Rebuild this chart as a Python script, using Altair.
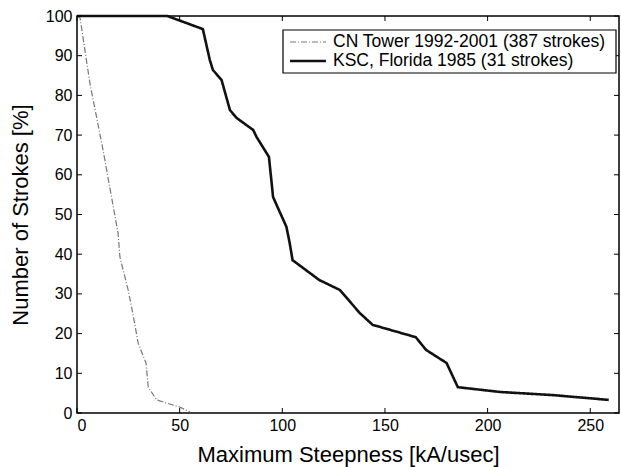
import altair as alt
import pandas as pd

# CN Tower 1992-2001 (387 strokes)
cn_x = [0, 1.5, 6.3, 12.7, 20.0, 20.9, 24.9, 26.6, 29.8, 33.6, 34.7, 38.8, 43.6, 50.0, 55.0]
cn_y = [100, 99.5, 83.0, 66.2, 45.3, 39.3, 31.0, 26.7, 17.6, 12.6, 6.5, 3.3, 2.5, 1.5, 0.3]

# KSC, Florida 1985 (31 strokes)
ksc_x = [0, 44, 61.3, 64.7, 66.2, 70.4, 74.5, 77.8, 85.8, 87.5, 92.3, 93.5, 95.5, 102, 103.6,
         105, 118, 128, 137.7, 144, 165, 170, 180, 185.5, 206, 232, 259]
ksc_y = [100, 100, 96.7, 88.9, 86.4, 83.9, 76.3, 74.3, 71.3, 69.5, 65.5, 64.5, 54.4, 46.9, 42.8,
         38.5, 33.5, 31.0, 25.2, 22.2, 19.1, 15.9, 12.6, 6.5, 5.3, 4.5, 3.3]

series = ["CN Tower 1992-2001 (387 strokes)", "KSC, Florida 1985 (31 strokes)"]
colors = ["#777777", "#111111"]
dashes = [[6, 2, 1, 2], [1, 0]]
widths = [1.2, 2.6]
x_ticks = [0, 50, 100, 150, 200, 250]
y_ticks = [0, 10, 20, 30, 40, 50, 60, 70, 80, 90, 100]

rows = []
for i, (x, y) in enumerate(zip(cn_x, cn_y)):
    rows.append({"s": series[0], "x": x, "y": y, "o": i})
for i, (x, y) in enumerate(zip(ksc_x, ksc_y)):
    rows.append({"s": series[1], "x": x, "y": y, "o": i})
df = pd.DataFrame(rows)

W, H = 542, 397
xs = alt.Scale(domain=[0, 264], nice=False)
ys = alt.Scale(domain=[0, 100], nice=False)

FONT = "Liberation Sans"
common = dict(ticks=False, grid=False, domain=False, titleFontWeight="normal",
              labelFontSize=16, titleFontSize=22, labelFont=FONT, titleFont=FONT,
              labelColor="black", titleColor="black")
xaxis = alt.Axis(values=x_ticks, title="Maximum Steepness [kA/usec]", labelPadding=4,
                 titlePadding=11, **common)
yaxis = alt.Axis(values=y_ticks, title="Number of Strokes [%]", labelPadding=5,
                 titlePadding=13, **common)

lines = alt.Chart(df).mark_line().encode(
    x=alt.X("x:Q", scale=xs, axis=xaxis),
    y=alt.Y("y:Q", scale=ys, axis=yaxis),
    order="o:Q",
    color=alt.Color("s:N", scale=alt.Scale(domain=series, range=colors), legend=None),
    strokeDash=alt.StrokeDash("s:N", scale=alt.Scale(domain=series, range=dashes), legend=None),
    strokeWidth=alt.StrokeWidth("s:N", scale=alt.Scale(domain=series, range=widths), legend=None),
)

xt = pd.DataFrame({"x": x_ticks})
yt = pd.DataFrame({"y": y_ticks})
xtick_b = alt.Chart(xt).mark_rule(color="black", strokeWidth=1).encode(
    x=alt.X("x:Q", scale=xs, axis=xaxis), y=alt.value(H), y2=alt.value(H - 5))
xtick_t = alt.Chart(xt).mark_rule(color="black", strokeWidth=1).encode(
    x=alt.X("x:Q", scale=xs, axis=xaxis), y=alt.value(0), y2=alt.value(5))
ytick_l = alt.Chart(yt).mark_rule(color="black", strokeWidth=1).encode(
    y=alt.Y("y:Q", scale=ys, axis=yaxis), x=alt.value(0), x2=alt.value(5))
ytick_r = alt.Chart(yt).mark_rule(color="black", strokeWidth=1).encode(
    y=alt.Y("y:Q", scale=ys, axis=yaxis), x=alt.value(W), x2=alt.value(W - 5))

# manual legend (MATLAB style box)
LX0, LX1, LY0, LY1 = 206, 539, 14, 57
row_y = [26, 45]
legend_box = alt.Chart(pd.DataFrame({"a": [0]})).mark_rect(
    fill="white", stroke="black", strokeWidth=1.2).encode(
    x=alt.value(LX0), x2=alt.value(LX1), y=alt.value(LY0), y2=alt.value(LY1))
legend_layers = [legend_box]
for i, name in enumerate(series):
    legend_layers.append(
        alt.Chart(pd.DataFrame({"a": [0]})).mark_rule(
            color=colors[i], strokeDash=dashes[i], strokeWidth=widths[i]).encode(
            x=alt.value(LX0 + 7), x2=alt.value(LX0 + 43), y=alt.value(row_y[i]))
    )
    legend_layers.append(
        alt.Chart(pd.DataFrame({"a": [0]})).mark_text(
            text=name, align="left", baseline="middle", font=FONT, fontSize=17.5,
            color="black").encode(x=alt.value(LX0 + 50), y=alt.value(row_y[i]))
    )

chart = alt.layer(lines, xtick_b, xtick_t, ytick_l, ytick_r, *legend_layers).properties(
    width=W, height=H,
    autosize=alt.AutoSizeParams(type="none"),
    padding={"left": 77, "top": 16, "right": 2, "bottom": 54},
    background="white",
).configure_view(stroke="black", strokeWidth=1.5)

chart.save("out.html", embed_options={"renderer": "svg", "actions": False})
